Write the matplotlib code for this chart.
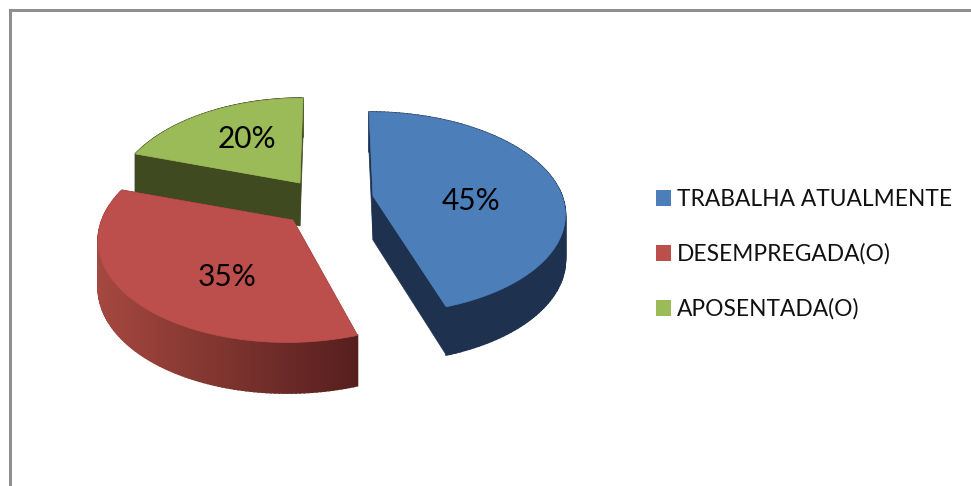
import numpy as np
import matplotlib
matplotlib.use("Agg")
import matplotlib.pyplot as plt
from matplotlib.patches import Polygon, Rectangle

categories = ["TRABALHA ATUALMENTE", "DESEMPREGADA(O)", "APOSENTADA(O)"]
shares = [45, 35, 20]

top_colors = ["#4c7eba", "#bc4f4c", "#9bbb59"]
wall_near = ["#1e3250", "#a5483f", "#404a20"]
wall_far = ["#1e3250", "#561f1e", "#404a20"]
apex = [(373, 196), (293, 220), (300, 183)]
radius_x = [189, 191, 183]
radius_y = [98, 102, 99]
shear = [4, -6, -3]
wall_depth = [44, 46, 43]
label_xy = [(471, 201), (227, 277), (247, 139)]
legend_y = [199, 254, 309]
K = 0.167

FONT = "Lato"
fig = plt.figure(figsize=(9.71, 4.86), dpi=100, facecolor="white")
ax = fig.add_axes([0, 0, 1, 1])
ax.set_xlim(0, 971)
ax.set_ylim(486, 0)
ax.axis("off")


def project(i, theta):
    X = np.sin(theta)
    Y = -np.cos(theta)
    s = 1 / (1 - K * Y)
    return apex[i][0] + radius_x[i] * X * s + shear[i] * Y, apex[i][1] + radius_y[i] * Y * s, Y


def mix(c1, c2, t):
    a = np.array(matplotlib.colors.to_rgb(c1))
    b = np.array(matplotlib.colors.to_rgb(c2))
    return tuple(a + (b - a) * t)


fractions = np.array(shares) / np.sum(shares)
edges = np.concatenate([[0], np.cumsum(fractions)]) * 2 * np.pi

for i in [2, 1, 0]:
    c = apex[i]
    th = np.linspace(edges[i], edges[i + 1], 121)
    px, py, pY = project(i, th)
    d = wall_depth[i] * (1 + 0.1 * pY)
    d0 = wall_depth[i]
    pts = list(zip(px, py))
    for k in (0, -1):
        ax.add_patch(Polygon(
            [c, (px[k], py[k]), (px[k], py[k] + d[k]), (c[0], c[1] + d0)],
            closed=True, fc=wall_far[i], ec=wall_far[i], lw=0.5, zorder=1 + (2 - i) * 3))
    x_lo, x_hi = px.min(), px.max()
    for j in range(len(th) - 1):
        t = (px[j] - x_lo) / (x_hi - x_lo)
        col = mix(wall_near[i], wall_far[i], t)
        ax.add_patch(Polygon(
            [(px[j], py[j]), (px[j + 1], py[j + 1]),
             (px[j + 1], py[j + 1] + d[j + 1]), (px[j], py[j] + d[j])],
            closed=True, fc=col, ec=col, lw=1.2, zorder=2 + (2 - i) * 3))
    ax.add_patch(Polygon([c] + pts, closed=True, fc=top_colors[i], ec=top_colors[i], lw=0.5,
                         zorder=3 + (2 - i) * 3))
    ax.text(label_xy[i][0], label_xy[i][1], f"{shares[i]}%", ha="center", va="center",
            fontsize=21.5, family=FONT, color="black", zorder=20)

for name, col, y in zip(categories, top_colors, legend_y):
    ax.add_patch(Rectangle((656, y - 9), 14.5, 15.5, fc=col, ec="none", zorder=20))
    ax.text(677, y, name, ha="left", va="center", fontsize=16.4, family=FONT,
            color="#111111", zorder=20)

ax.add_patch(Rectangle((9, 9), 962, 3, fc="#8f8f8f", ec="none", zorder=30))
ax.add_patch(Rectangle((9, 9), 3, 477, fc="#8f8f8f", ec="none", zorder=30))

fig.savefig("out.png", dpi=100, facecolor="white")
